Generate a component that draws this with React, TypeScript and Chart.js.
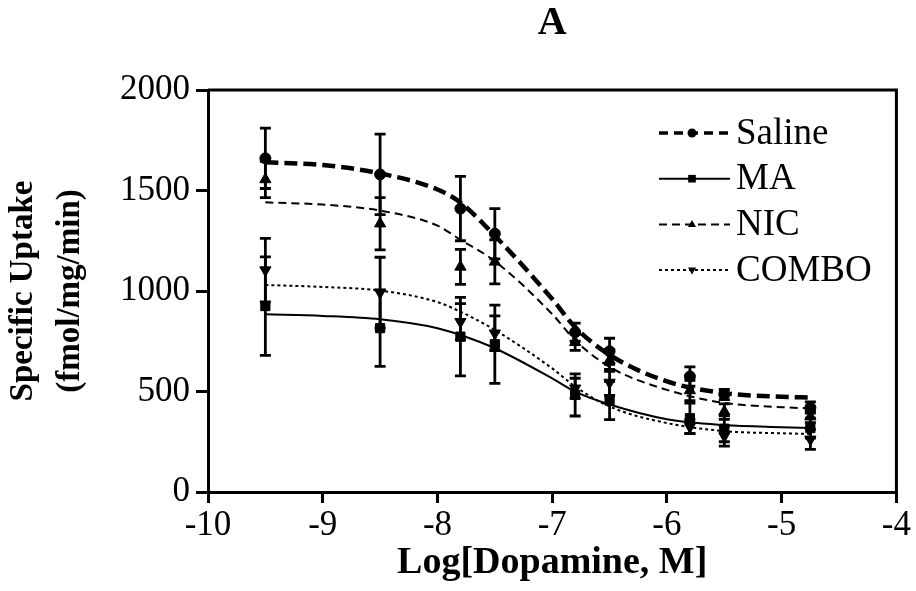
import React, { useEffect, useRef } from 'react';
import { Chart, registerables } from 'chart.js';

Chart.register(...registerables);

// ---- data ----
const doses = [-9.5, -8.5, -7.8, -7.5, -6.8, -6.5, -5.8, -5.5, -4.75];

const salineMean = [1660, 1580, 1410, 1285, 795, 700, 575, 485, 420];
const salineSem = [150, 200, 160, 125, 45, 65, 48, 25, 28];
const maMean = [925, 815, 773, 735, 483, 455, 367, 315, 318];
const maSem = [245, 190, 195, 195, 105, 95, 75, 65, 50];
const nicMean = [1555, 1335, 1120, 1145, 745, 655, 505, 400, 375];
const nicSem = [90, 130, 87, 110, 40, 55, 50, 38, 30];
const comboMean = [1104, 992, 847, 790, 516, 545, 325, 278, 262];
const comboSem = [158, 176, 90, 86, 50, 65, 35, 50, 50];

// fitted curves, read at these log concentrations
const fitX = [-9.5, -9, -8.5, -8, -7.8, -7.5, -7, -6.8, -6.5, -6, -5.5, -5, -4.75];
const salineFit = [1640, 1627, 1585, 1505, 1440, 1275, 960, 820, 682, 550, 492, 474, 470];
const maFit = [884, 876, 859, 815, 781, 715, 565, 499, 435, 362, 333, 322, 318];
const nicFit = [1441, 1430, 1400, 1325, 1255, 1148, 885, 755, 622, 508, 443, 422, 416];
const comboFit = [1030, 1020, 1002, 945, 897, 806, 615, 525, 425, 343, 303, 292, 289];

const seriesLabels = ['Saline', 'MA', 'NIC', 'COMBO'];
const xTicks = [-10, -9, -8, -7, -6, -5, -4];
const yTicks = [0, 500, 1000, 1500, 2000];
const panelTitle = 'A';
const xTitle = 'Log[Dopamine, M]';
const yTitle = ['Specific Uptake', '(fmol/mg/min)'];

const SERIF = "'Liberation Serif', 'Times New Roman', serif";

type Style = { marker: string; rot: number; r: number; width: number; dash: number[] };
const styles: Style[] = [
  { marker: 'circle', rot: 0, r: 5.5, width: 4.5, dash: [13, 6] },
  { marker: 'rect', rot: 0, r: 6.5, width: 2, dash: [] },
  { marker: 'triangle', rot: 0, r: 6.5, width: 2, dash: [8, 5] },
  { marker: 'triangle', rot: 180, r: 6.5, width: 2, dash: [3, 3] },
];

const errorBars = {
  id: 'errorBars',
  beforeDatasetsDraw(chart: any) {
    const { ctx } = chart;
    const xs = chart.scales.x;
    const ys = chart.scales.y;
    ctx.save();
    ctx.strokeStyle = '#000';
    ctx.lineWidth = 2.8;
    chart.data.datasets.forEach((ds: any) => {
      const errs: number[] | undefined = ds.errors;
      if (!errs) return;
      ds.data.forEach((p: any, i: number) => {
        const px = xs.getPixelForValue(p.x);
        const t = ys.getPixelForValue(p.y + errs[i]);
        const b = ys.getPixelForValue(p.y - errs[i]);
        ctx.beginPath();
        ctx.moveTo(px, t);
        ctx.lineTo(px, b);
        ctx.moveTo(px - 5.5, t);
        ctx.lineTo(px + 5.5, t);
        ctx.moveTo(px - 5.5, b);
        ctx.lineTo(px + 5.5, b);
        ctx.stroke();
      });
    });
    ctx.restore();
  },
};

const frame = {
  id: 'frame',
  afterDatasetsDraw(chart: any) {
    const { ctx, chartArea: a } = chart;
    ctx.save();
    ctx.strokeStyle = '#000';
    ctx.lineWidth = 3;
    ctx.beginPath();
    ctx.moveTo(a.left, a.top);
    ctx.lineTo(a.right, a.top);
    ctx.lineTo(a.right, a.bottom);
    ctx.stroke();
    ctx.restore();
  },
};

function drawMarker(ctx: CanvasRenderingContext2D, st: Style, x: number, y: number, r: number) {
  ctx.beginPath();
  if (st.marker === 'circle') {
    ctx.arc(x, y, r, 0, Math.PI * 2);
  } else if (st.marker === 'rect') {
    const s = r * 0.85;
    ctx.rect(x - s, y - s, 2 * s, 2 * s);
  } else {
    const dir = st.rot === 180 ? -1 : 1;
    ctx.moveTo(x, y - dir * r);
    ctx.lineTo(x - r * 0.9, y + dir * r * 0.6);
    ctx.lineTo(x + r * 0.9, y + dir * r * 0.6);
    ctx.closePath();
  }
  ctx.fill();
}

const lineLegend = {
  id: 'lineLegend',
  afterDraw(chart: any) {
    const { ctx } = chart;
    ctx.save();
    const x0 = 659;
    const x1 = 730;
    const xm = 692;
    const textX = 736;
    const top = 133;
    const step = 45.7;
    seriesLabels.forEach((label, i) => {
      const st = styles[i];
      const y = top + i * step;
      ctx.strokeStyle = '#000';
      ctx.fillStyle = '#000';
      ctx.lineWidth = i === 0 ? 3.5 : 2;
      ctx.setLineDash(i === 0 ? [9, 6] : st.dash);
      ctx.beginPath();
      ctx.moveTo(x0, y);
      ctx.lineTo(x1, y);
      ctx.stroke();
      ctx.setLineDash([]);
      drawMarker(ctx, st, xm, y, 4.5);
      ctx.font = `37px ${SERIF}`;
      ctx.textBaseline = 'middle';
      ctx.textAlign = 'left';
      ctx.fillText(label, textX, y + 1);
    });
    ctx.restore();
  },
};

export default function App() {
  const ref = useRef<HTMLCanvasElement>(null);

  useEffect(() => {
    const canvas = ref.current;
    if (!canvas) return;
    const means = [salineMean, maMean, nicMean, comboMean];
    const sems = [salineSem, maSem, nicSem, comboSem];
    const fits = [salineFit, maFit, nicFit, comboFit];
    const datasets: any[] = [];
    seriesLabels.forEach((label, i) => {
      const st = styles[i];
      datasets.push({
        label: label + ' fit',
        data: fitX.map((x, j) => ({ x, y: fits[i][j] })),
        showLine: true,
        pointRadius: 0,
        borderColor: '#000',
        backgroundColor: '#000',
        borderWidth: st.width,
        borderDash: st.dash,
        cubicInterpolationMode: 'monotone',
        fill: false,
      });
    });
    seriesLabels.forEach((label, i) => {
      const st = styles[i];
      datasets.push({
        label,
        data: doses.map((x, j) => ({ x, y: means[i][j] })),
        errors: sems[i],
        showLine: false,
        pointStyle: st.marker,
        pointRotation: st.rot,
        pointRadius: st.r,
        pointBackgroundColor: '#000',
        pointBorderColor: '#000',
        pointBorderWidth: 1,
        borderColor: '#000',
        backgroundColor: '#000',
      });
    });

    const chart = new Chart(canvas, {
      type: 'scatter',
      data: { datasets },
      plugins: [errorBars, frame, lineLegend],
      options: {
        responsive: false,
        animation: false,
        events: [],
        layout: { padding: { left: 0, right: 19, top: 0, bottom: 0 } },
        plugins: {
          legend: { display: false },
          tooltip: { enabled: false },
          title: {
            display: true,
            text: panelTitle,
            fullSize: false,
            color: '#000',
            font: { family: SERIF, size: 40, weight: 'bold', lineHeight: 1.2 },
            padding: { top: 0, bottom: 42 },
          },
        },
        scales: {
          x: {
            type: 'linear',
            min: -10,
            max: -4,
            afterFit: (s: any) => {
              s.height = 99;
            },
            afterBuildTicks: (s: any) => {
              s.ticks = xTicks.map((v) => ({ value: v }));
            },
            ticks: {
              color: '#000',
              font: { family: SERIF, size: 35, lineHeight: 1 },
              padding: 5,
              maxRotation: 0,
              autoSkip: false,
              callback: (v: any) => String(v),
            },
            grid: {
              drawOnChartArea: false,
              drawTicks: true,
              tickLength: 11,
              tickWidth: 3,
              tickColor: '#000',
              color: '#000',
              lineWidth: 3,
            },
            border: { display: true, color: '#000', width: 3 },
            title: {
              display: true,
              text: xTitle,
              color: '#000',
              font: { family: SERIF, size: 38, weight: 'bold', lineHeight: 1 },
              padding: { top: 0, bottom: 9 },
            },
          },
          y: {
            type: 'linear',
            min: 0,
            max: 2000,
            afterFit: (s: any) => {
              s.width = 208;
            },
            afterBuildTicks: (s: any) => {
              s.ticks = yTicks.map((v) => ({ value: v }));
            },
            ticks: {
              color: '#000',
              font: { family: SERIF, size: 35, lineHeight: 1 },
              padding: 6,
              callback: (v: any) => String(v),
            },
            grid: {
              drawOnChartArea: false,
              drawTicks: true,
              tickLength: 12,
              tickWidth: 3,
              tickColor: '#000',
              color: '#000',
              lineWidth: 3,
            },
            border: { display: true, color: '#000', width: 3 },
            title: {
              display: true,
              text: yTitle,
              color: '#000',
              font: { family: SERIF, size: 33, weight: 'bold', lineHeight: 1.42 },
              padding: { top: 0, bottom: 0 },
            },
          },
        },
      } as any,
    });
    return () => chart.destroy();
  }, []);

  return (
    <div style={{ position: 'fixed', left: 0, top: 0, width: 916, height: 591, background: '#fff' }}>
      <canvas ref={ref} width={916} height={591} />
    </div>
  );
}
